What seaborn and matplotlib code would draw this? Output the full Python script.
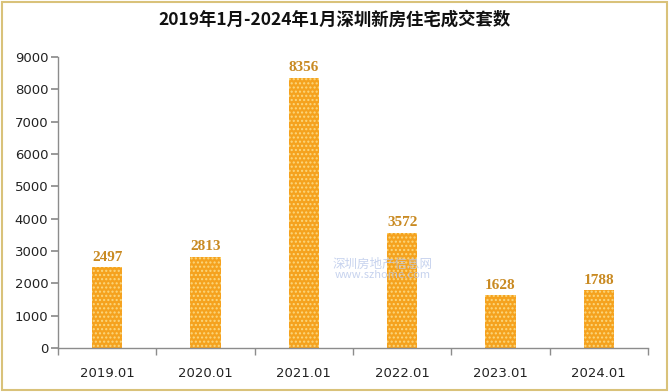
import matplotlib
matplotlib.use("Agg")
import matplotlib.pyplot as plt
import seaborn as sns
import pandas as pd
from matplotlib.patches import Rectangle

categories = ["2019.01", "2020.01", "2021.01", "2022.01", "2023.01", "2024.01"]
values = [2497, 2813, 8356, 3572, 1628, 1788]
yticks = [0, 1000, 2000, 3000, 4000, 5000, 6000, 7000, 8000, 9000]
title = "2019年1月-2024年1月深圳新房住宅成交套数"

sns.set_theme(style="white")
plt.rcParams['font.family'] = ['Noto Sans CJK SC', 'DejaVu Sans']
plt.rcParams['hatch.linewidth'] = 1.0

df = pd.DataFrame({"cat": categories, "val": values})

fig = plt.figure(figsize=(6.69, 3.92), dpi=100)
fig.patch.set_facecolor("white")
ax = fig.add_axes([58/669, 1 - 348/392, 590/669, (348 - 57)/392])

sns.barplot(data=df, x="cat", y="val", color="#F5A21E", width=0.31, ax=ax,
            saturation=1, edgecolor="#FBD77E", linewidth=0)
for p in ax.patches:
    p.set_hatch("....")
    p.set_edgecolor("#FBD77E")
    p.set_linewidth(0)

for i, v in enumerate(values):
    ax.text(i, v + 110, str(v), ha="center", va="bottom", fontsize=11,
            color="#C98A22", fontweight="bold", family=["Liberation Serif", "DejaVu Serif"])

ax.set_xlim(-0.5, len(categories) - 0.5)
ax.set_ylim(0, 9000)
ax.set_yticks(yticks)
ax.set_yticklabels([str(t) for t in yticks], fontsize=9.5, color="#222222", family="DejaVu Sans")
ax.set_xticks(range(len(categories)))
ax.set_xticklabels(categories, fontsize=9.5, color="#222222", family="DejaVu Sans")
ax.set_xlabel("")
ax.set_ylabel("")
for s in ["top", "right"]:
    ax.spines[s].set_visible(False)
for s in ["left", "bottom"]:
    ax.spines[s].set_color("#8C8C8C")
    ax.spines[s].set_linewidth(1)
ax.tick_params(axis="y", which="major", left=True, length=5, color="#8C8C8C", pad=2)
ax.tick_params(axis="x", which="major", bottom=False, pad=8)
ax.set_xticks([i + 0.5 for i in range(-1, len(categories))], minor=True)
ax.tick_params(axis="x", which="minor", bottom=True, length=5, color="#8C8C8C")

# watermark text
ax.text(2.8, 2600, "深圳房地产信息网", ha="center", va="center", fontsize=9,
        color="#B9C8EA", alpha=0.8)
ax.text(2.8, 2250, "www.szhome.com", ha="center", va="center", fontsize=8,
        color="#B9C8EA", alpha=0.8, style="italic")

fig.text(0.5, 1 - 20/392, title, ha="center", va="center", fontsize=12.5,
         color="#111111", fontweight="bold")

fig.patches.append(Rectangle((0.003, 0.004), 0.994, 0.992, transform=fig.transFigure,
                             fill=False, edgecolor="#D9C27A", linewidth=1.5))

fig.savefig("out.png", dpi=100)
